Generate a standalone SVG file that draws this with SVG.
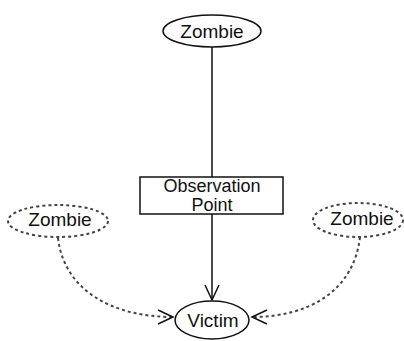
<svg xmlns="http://www.w3.org/2000/svg" width="404" height="341" viewBox="0 0 404 341">
<defs>
<style>
text{font-family:"Liberation Sans",Arial,sans-serif;font-size:19px;fill:#111;text-anchor:middle}
.box{font-size:18px}
.solid{fill:#fff;stroke:#111;stroke-width:1.5}
.dash{fill:#fff;stroke:#444;stroke-width:2;stroke-dasharray:3,3}
.conn{fill:none;stroke:#111;stroke-width:1.5}
.dconn{fill:none;stroke:#444;stroke-width:2;stroke-dasharray:3,3}
</style>
<marker id="arr" markerWidth="18" markerHeight="18" refX="16" refY="8" orient="auto" markerUnits="userSpaceOnUse">
<path d="M1,1 L16,8 L1,15" fill="none" stroke="#111" stroke-width="1.5"/>
</marker>
</defs>
<g id="connectors">
<line class="conn" x1="212" y1="47" x2="212" y2="300" marker-end="url(#arr)"/>
<path class="dconn" d="M58,238 C64,290 112,317 173,317" marker-end="url(#arr)"/>
<path class="dconn" d="M360,237 C354,290 310,317 252,317" marker-end="url(#arr)"/>
</g>
<g id="zombie-top">
<ellipse class="solid" cx="212" cy="31" rx="49" ry="16"/>
<text x="212" y="38">Zombie</text>
</g>
<g id="observation-point">
<rect class="solid" x="140" y="177" width="143" height="37"/>
<text class="box" x="212" y="192">Observation</text>
<text class="box" x="212" y="211">Point</text>
</g>
<g id="zombie-left">
<ellipse class="dash" cx="58" cy="221" rx="50" ry="16"/>
<text x="60" y="226">Zombie</text>
</g>
<g id="zombie-right">
<ellipse class="dash" cx="358" cy="220" rx="45" ry="17"/>
<text x="362" y="225">Zombie</text>
</g>
<g id="victim">
<ellipse class="solid" cx="212" cy="320" rx="37" ry="19"/>
<text x="213" y="327">Victim</text>
</g>
</svg>
